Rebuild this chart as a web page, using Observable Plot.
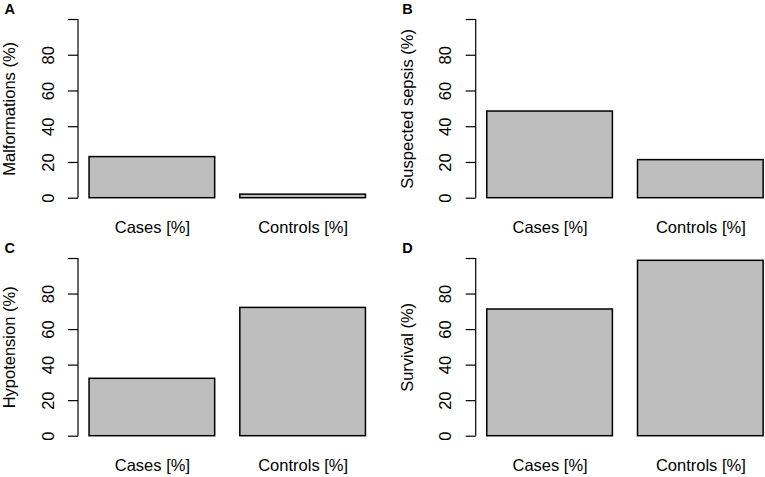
<!DOCTYPE html>
<html>
<head>
<meta charset="utf-8">
<script src="https://cdn.jsdelivr.net/npm/d3@7"></script>
<script src="https://cdn.jsdelivr.net/npm/@observablehq/plot@0.6"></script>
<style>
  html, body { margin: 0; padding: 0; background: #fff; }
  #wrap { position: relative; width: 765px; height: 477px; overflow: hidden; background: #fff; }
  .panel { position: absolute; width: 400px; }
  .panel svg { display: block; overflow: visible; max-width: none !important; }
</style>
</head>
<body>
<div id="wrap"></div>
<script>
const categories = ["Cases [%]", "Controls [%]"];
const malformations = [23, 2];
const suspectedSepsis = [48.5, 21.3];
const hypotension = [32.3, 72.2];
const survival = [71.3, 98.7];
const yTicks = [0, 20, 40, 60, 80, 100];
const yTickLabels = [0, 20, 40, 60, 80];

const panels = [
  {label: "A", title: "Malformations (%)", values: malformations, left: 0, top: 0, width: 382, height: 238, marginLeft: 78, marginTop: 19, marginBottom: 40.3},
  {label: "B", title: "Suspected sepsis (%)", values: suspectedSepsis, left: 382, top: 0, width: 400, height: 238, marginLeft: 93.7, marginTop: 19, marginBottom: 40.3},
  {label: "C", title: "Hypotension (%)", values: hypotension, left: 0, top: 238, width: 382, height: 239, marginLeft: 78, marginTop: 20, marginBottom: 41.3},
  {label: "D", title: "Survival (%)", values: survival, left: 382, top: 238, width: 400, height: 239, marginLeft: 93.7, marginTop: 20, marginBottom: 41.3}
];

const font = "'Liberation Sans', Arial, Helvetica, sans-serif";
const wrap = document.getElementById("wrap");

// y axis line from 0 to 100 drawn through the library's y scale
function axisLine(index, scales, values, dimensions) {
  const g = document.createElementNS("http://www.w3.org/2000/svg", "line");
  const x = dimensions.marginLeft;
  g.setAttribute("x1", x);
  g.setAttribute("x2", x);
  g.setAttribute("y1", scales.y(yTicks[0]));
  g.setAttribute("y2", scales.y(yTicks[yTicks.length - 1]));
  g.setAttribute("stroke", "black");
  g.setAttribute("stroke-width", "1.2");
  return g;
}

for (const p of panels) {
  const data = categories.map((c, i) => ({cat: c, value: p.values[i]}));
  const plotWidth = 298.5;
  const chart = Plot.plot({
    width: p.width,
    height: p.height,
    marginLeft: p.marginLeft,
    marginRight: p.width - p.marginLeft - plotWidth,
    marginTop: p.marginTop,
    marginBottom: p.marginBottom,
    style: {fontFamily: font, fontSize: "16.5px", color: "black", background: "white", overflow: "visible"},
    x: {type: "band", domain: categories, paddingInner: 0.2 / 1.2, paddingOuter: 0.088 / 1.2, round: false, axis: null},
    y: {domain: [0, 100], axis: null},
    marks: [
      Plot.barY(data, {x: "cat", y: "value", fill: "#BEBEBE", stroke: "black", strokeWidth: 1.5, insetLeft: 0, insetRight: 0}),
      Plot.axisY({ticks: yTicks, tickSize: 10, tickFormat: () => "", label: null, stroke: "black", strokeWidth: 1.2}),
      axisLine,
      Plot.text(yTickLabels, {y: d => d, text: d => String(d), frameAnchor: "left", dx: -30, rotate: -90, textAnchor: "middle", lineAnchor: "middle", fontSize: 16.5, fill: "black"}),
      Plot.text([p.title], {text: d => d, frameAnchor: "left", dx: -68.5, rotate: -90, textAnchor: "middle", lineAnchor: "middle", fontSize: 16.5, fill: "black"}),
      Plot.text(categories, {x: d => d, text: d => d, frameAnchor: "bottom", dy: 30, lineAnchor: "middle", textAnchor: "middle", fontSize: 16.5, fill: "black"}),
      Plot.text([p.label], {text: d => d, frameAnchor: "top-left", dx: -74, dy: -10.5, textAnchor: "start", lineAnchor: "middle", fontSize: 14.5, fontWeight: "bold", fill: "black"})
    ]
  });
  const div = document.createElement("div");
  div.className = "panel";
  div.style.left = p.left + "px";
  div.style.top = p.top + "px";
  div.appendChild(chart);
  wrap.appendChild(div);
}
</script>
</body>
</html>
